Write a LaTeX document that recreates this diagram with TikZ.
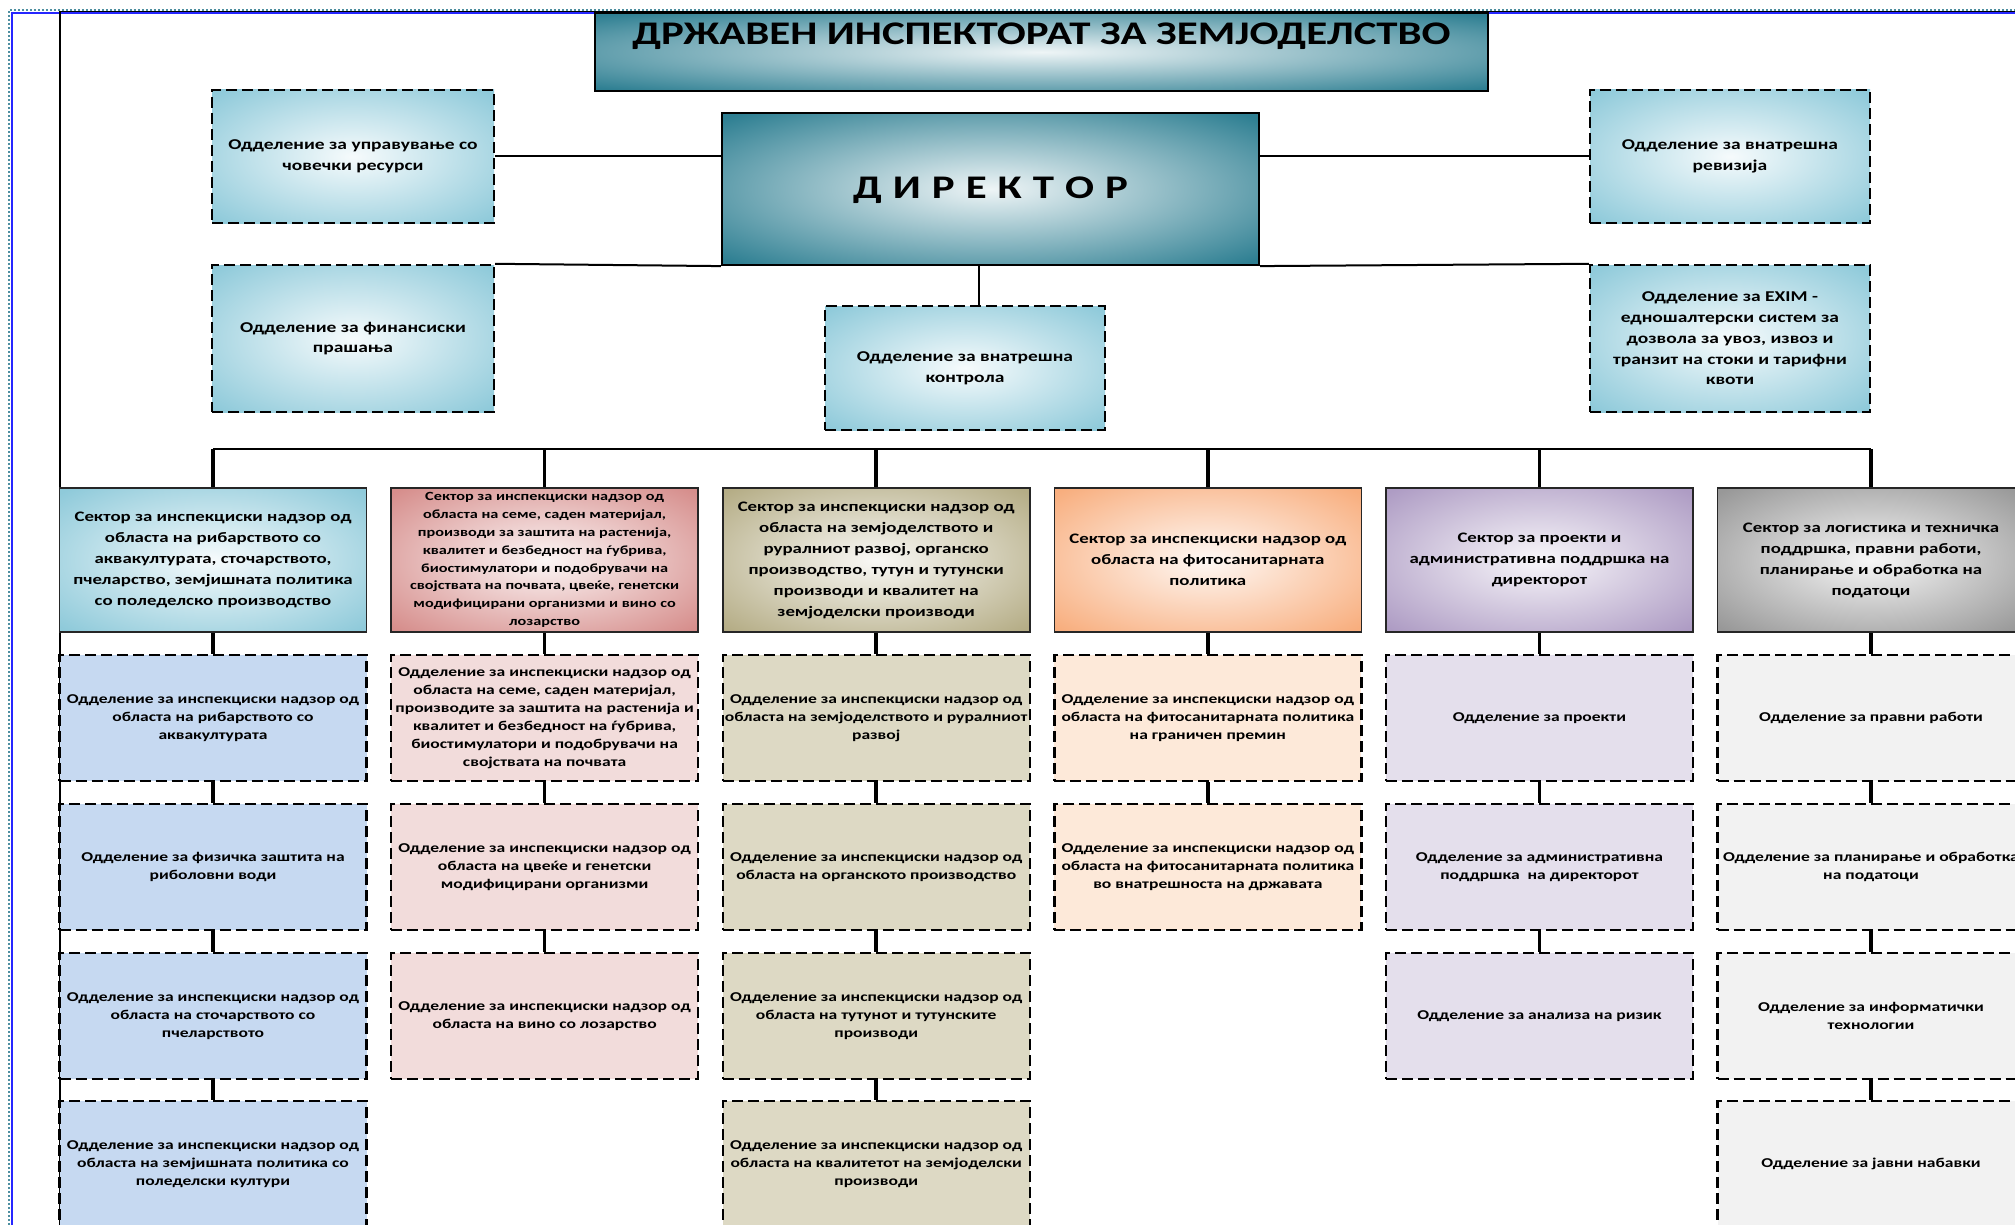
\documentclass[tikz,border=0pt]{standalone}
\usepackage{fontspec}
\setmainfont{Carlito}[FakeStretch=1.3]

\definecolor{aqua}{HTML}{8FCADA}
\definecolor{dirteal}{HTML}{2E7F92}
\definecolor{secblue}{HTML}{8FCADA}
\definecolor{secred}{HTML}{D68E8C}
\definecolor{secolive}{HTML}{B5AD86}
\definecolor{secorange}{HTML}{F8AE7E}
\definecolor{secviolet}{HTML}{AE9CC4}
\definecolor{secgray}{HTML}{989898}
\definecolor{depblue}{HTML}{C6D9F1}
\definecolor{depred}{HTML}{F2DCDB}
\definecolor{depolive}{HTML}{DDD9C4}
\definecolor{deporange}{HTML}{FDE9D9}
\definecolor{depviolet}{HTML}{E4DFEC}
\definecolor{depgray}{HTML}{F2F2F2}
\definecolor{framedot}{HTML}{4E8FA0}
\colorlet{glowout}{white}
\pgfdeclareradialshading[glowout]{glow}{\pgfpointorigin}{color(0bp)=(white!92!glowout); color(34bp)=(glowout); color(60bp)=(glowout)}
\newcommand{\dirgap}{\hspace{11pt}}

\begin{document}
\begin{tikzpicture}[x=1pt,y=-1pt,
  glow/.style={/utils/exec={\colorlet{glowout}{#1}}, shade, shading=glow},
  box/.style={rectangle, draw=black, inner sep=2pt, align=center},
  dashbox/.style={box, line width=2.4pt, dash pattern=on 11pt off 5pt},
  topbox/.style={dashbox, glow=aqua, minimum width=282, font=\bfseries\fontsize{15}{20.7}\selectfont},
  headbox/.style={box, line width=2.2pt, glow=dirteal, font=\bfseries\fontsize{33}{36}\selectfont},
  sectbox/.style={box, line width=1.6pt, draw=black!85, glow=#1, minimum width=307, minimum height=144, font=\bfseries\fontsize{14.5}{21}\selectfont},
  depbox/.style={dashbox, fill=#1, minimum width=307, minimum height=126, font=\bfseries\fontsize{13.5}{18}\selectfont},
  link/.style={line width=2pt},
  bus/.style={line width=2.2pt},
  drop/.style={line width=3.6pt}
]
\useasboundingbox (0,0) rectangle (2015,1225);
% page frame
\draw[framedot, line width=1.6pt, dash pattern=on 2pt off 2pt] (9,1225) -- (9,10) -- (2015,10);
\draw[blue!85, line width=1.5pt] (12,1225) -- (12,13) -- (2015,13);
\draw[black, line width=1.5pt] (60,1225) -- (60,11.5) -- (2015,11.5);

% top of the chart
\node[headbox, minimum width=893, minimum height=78, text height=22pt, text depth=36pt] (title) at (1041.5,52) {ДРЖАВЕН ИНСПЕКТОРАТ ЗА ЗЕМЈОДЕЛСТВО};
\node[headbox, minimum width=537, minimum height=152, text depth=2pt] (dir) at (990.5,189)
  {Д\dirgap И\dirgap Р\dirgap Е\dirgap К\dirgap Т\dirgap О\dirgap Р};
\node[topbox, minimum height=133] (hr) at (353,156.5) {Одделение за управување со\\човечки ресурси};
\node[topbox, minimum height=147] (fin) at (353,338.5) {Одделение за финансиски\\прашања};
\node[topbox, minimum width=280, minimum height=133] (audit) at (1730,156.5) {Одделение за внатрешна\\ревизија};
\node[topbox, minimum width=280, minimum height=147] (exim) at (1730,338.5)
  {Одделение за EXIM -\\едношалтерски систем за\\дозвола за увоз, извоз и\\транзит на стоки и тарифни\\квоти};
\node[topbox, minimum width=280, minimum height=124] (ctrl) at (965,368) {Одделение за внатрешна\\контрола};
\coordinate (ctrltap) at (979,0);
\coordinate (busy) at (0,449);

% sectors
\node[sectbox=secblue] (s1) at (213,560) {Сектор за инспекциски надзор од\\областа на рибарството со\\аквакултурата, сточарството,\\пчеларство, земјишната политика\\со поледелско производство};
\node[sectbox=secred, font=\bfseries\fontsize{12.5}{17.8}\selectfont] (s2) at (544.6,560) {Сектор за инспекциски надзор од\\областа на семе, саден материјал,\\производи за заштита на растенија,\\квалитет и безбедност на ѓубрива,\\биостимулатори и подобрувачи на\\својствата на почвата, цвеќе, генетски\\модифицирани организми и вино со\\лозарство};
\node[sectbox=secolive] (s3) at (876.2,560) {Сектор за инспекциски надзор од\\областа на земјоделството и\\руралниот развој, органско\\производство, тутун и тутунски\\производи и квалитет на\\земјоделски производи};
\node[sectbox=secorange] (s4) at (1207.8,560) {Сектор за инспекциски надзор од\\областа на фитосанитарната\\политика};
\node[sectbox=secviolet] (s5) at (1539.4,560) {Сектор за проекти и\\административна поддршка на\\директорот};
\node[sectbox=secgray] (s6) at (1871,560) {Сектор за логистика и техничка\\поддршка, правни работи,\\планирање и обработка на\\податоци};

% departments, column 1
\node[depbox=depblue] (d11) at (213,718) {Одделение за инспекциски надзор од\\областа на рибарството со\\аквакултурата};
\node[depbox=depblue] (d12) at (213,867) {Одделение за физичка заштита на\\риболовни води};
\node[depbox=depblue] (d13) at (213,1016) {Одделение за инспекциски надзор од\\областа на сточарството со\\пчеларството};
\node[depbox=depblue] (d14) at (213,1164) {Одделение за инспекциски надзор од\\областа на земјишната политика со\\поледелски култури};
% column 2
\node[depbox=depred] (d21) at (544.6,718) {Одделение за инспекциски надзор од\\областа на семе, саден материјал,\\производите за заштита на растенија и\\квалитет и безбедност на ѓубрива,\\биостимулатори и подобрувачи на\\својствата на почвата};
\node[depbox=depred] (d22) at (544.6,867) {Одделение за инспекциски надзор од\\областа на цвеќе и генетски\\модифицирани организми};
\node[depbox=depred] (d23) at (544.6,1016) {Одделение за инспекциски надзор од\\областа на вино со лозарство};
% column 3
\node[depbox=depolive] (d31) at (876.2,718) {Одделение за инспекциски надзор од\\областа на земјоделството и руралниот\\развој};
\node[depbox=depolive] (d32) at (876.2,867) {Одделение за инспекциски надзор од\\областа на органското производство};
\node[depbox=depolive] (d33) at (876.2,1016) {Одделение за инспекциски надзор од\\областа на тутунот и тутунските\\производи};
\node[depbox=depolive] (d34) at (876.2,1164) {Одделение за инспекциски надзор од\\областа на квалитетот на земјоделски\\производи};
% column 4
\node[depbox=deporange] (d41) at (1207.8,718) {Одделение за инспекциски надзор од\\областа на фитосанитарната политика\\на граничен премин};
\node[depbox=deporange] (d42) at (1207.8,867) {Одделение за инспекциски надзор од\\областа на фитосанитарната политика\\во внатрешноста на државата};
% column 5
\node[depbox=depviolet] (d51) at (1539.4,718) {Одделение за проекти};
\node[depbox=depviolet] (d52) at (1539.4,867) {Одделение за административна\\поддршка\ \ на директорот};
\node[depbox=depviolet] (d53) at (1539.4,1016) {Одделение за анализа на ризик};
% column 6
\node[depbox=depgray] (d61) at (1871,718) {Одделение за правни работи};
\node[depbox=depgray] (d62) at (1871,867) {Одделение за планирање и обработка\\на податоци};
\node[depbox=depgray] (d63) at (1871,1016) {Одделение за информатички\\технологии};
\node[depbox=depgray] (d64) at (1871,1164) {Одделение за јавни набавки};

% lines from the director
\draw[link] (hr.east) -- (hr.east -| dir.west);
\draw[link] (fin.north east) -- (dir.south west);
\draw[link] (dir.east |- audit.west) -- (audit.west);
\draw[link] (dir.south east) -- (exim.north west);
\draw[link] (dir.south -| ctrltap) -- (ctrl.north -| ctrltap);
\draw[bus] (s1.north |- busy) -- (s6.north |- busy);
\foreach \c in {1,...,6}
\draw[drop] (s\c.north |- busy) -- (s\c.north);
\foreach \a/\b in {s1/d11, d11/d12, d12/d13, d13/d14, s2/d21, d21/d22, d22/d23,
  s3/d31, d31/d32, d32/d33, d33/d34, s4/d41, d41/d42, s5/d51, d51/d52, d52/d53,
  s6/d61, d61/d62, d62/d63, d63/d64}
\draw[drop] (\a.south) -- (\b.north);
\end{tikzpicture}
\end{document}
